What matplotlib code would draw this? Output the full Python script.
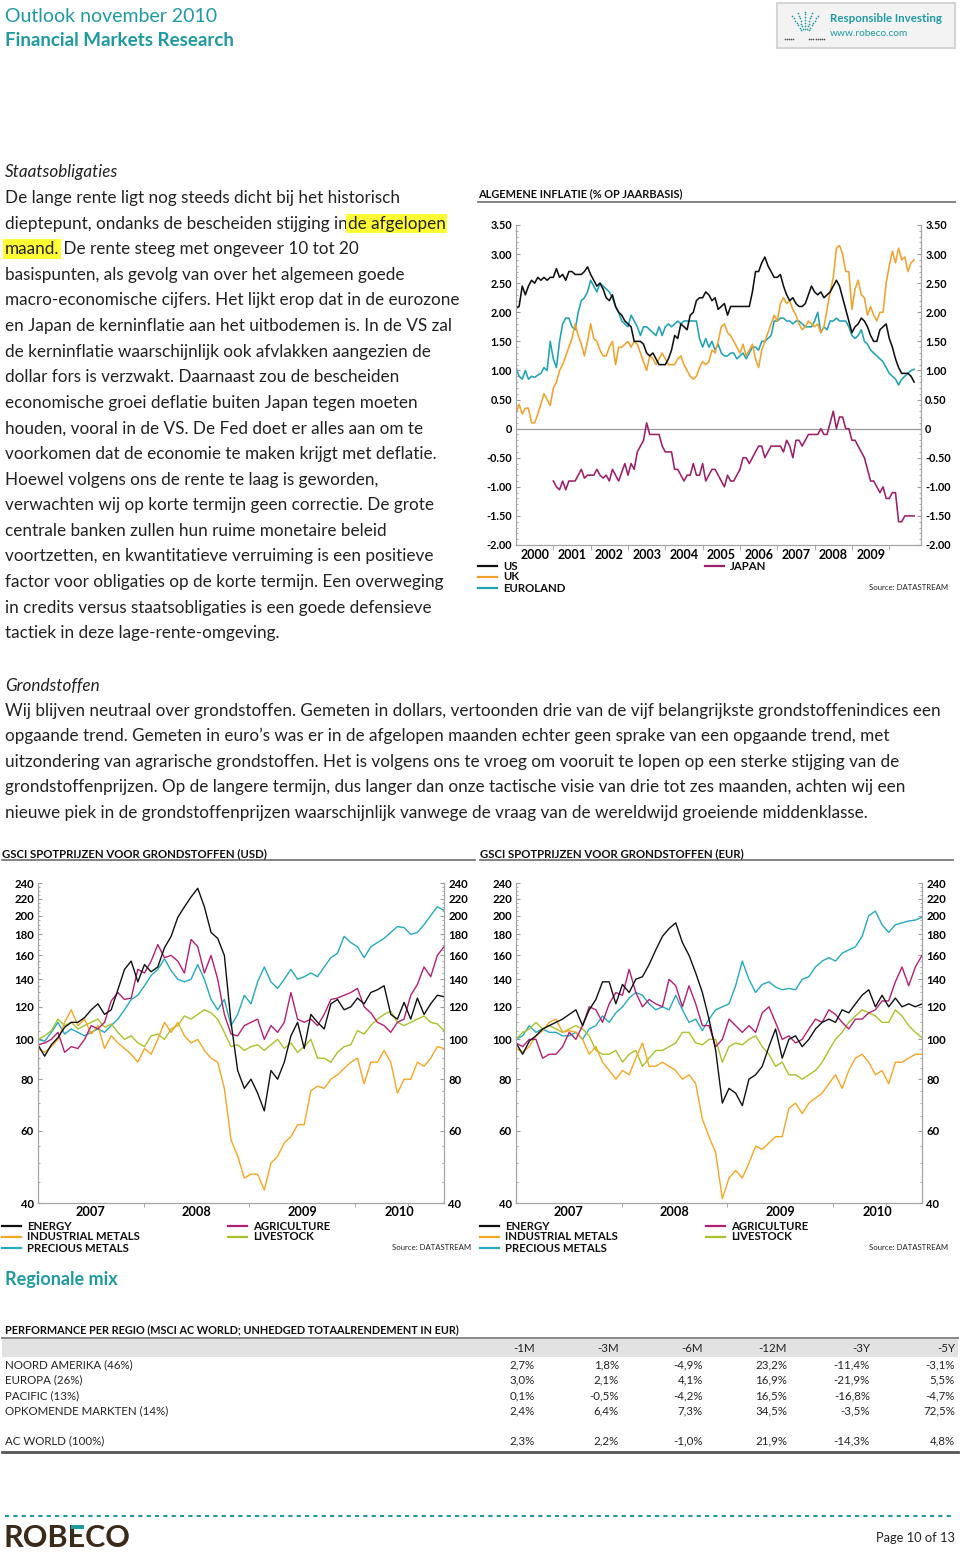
import numpy as np
import matplotlib
matplotlib.use("Agg")
import matplotlib.pyplot as plt
from matplotlib.lines import Line2D
from matplotlib.patches import Rectangle
from matplotlib.ticker import FixedLocator, NullFormatter

plt.rcParams['font.family'] = ['Lato', 'DejaVu Sans']

# ---------------- data ----------------
# inflation, monthly from Jan 2000 (Japan from Jan 2001)
infl_us = [2.07, 2.1, 2.45, 2.3, 2.45, 2.55, 2.5, 2.6, 2.55, 2.6, 2.55, 2.6,
           2.6, 2.75, 2.6, 2.65, 2.55, 2.7, 2.7, 2.65, 2.65, 2.65, 2.7, 2.78,
           2.65, 2.55, 2.45, 2.5, 2.4, 2.25, 2.2, 2.3, 2.1, 2.0, 1.95, 1.85,
           1.8, 1.75, 1.5, 1.5, 1.5, 1.45, 1.3, 1.25, 1.3, 1.2, 1.1, 1.1,
           1.1, 1.2, 1.35, 1.6, 1.55, 1.8, 1.75, 1.7, 1.95, 2.0, 2.2, 2.25,
           2.25, 2.35, 2.3, 2.2, 2.25, 2.05, 2.1, 2.15, 1.95, 2.1, 2.1, 2.1,
           2.1, 2.1, 2.1, 2.1, 2.35, 2.7, 2.7, 2.85, 2.95, 2.8, 2.7, 2.6,
           2.6, 2.65, 2.45, 2.3, 2.2, 2.25, 2.15, 2.1, 2.1, 2.15, 2.3, 2.45,
           2.35, 2.3, 2.35, 2.25, 2.3, 2.35, 2.45, 2.55, 2.45, 2.25, 2.05, 1.85,
           1.65, 1.75, 1.8, 1.9, 1.85, 1.75, 1.6, 1.5, 1.5, 1.7, 1.75, 1.8,
           1.55, 1.4, 1.2, 1.05, 0.95, 0.95, 0.95, 0.9, 0.8]
infl_uk = [0.25, 0.42, 0.25, 0.35, 0.35, 0.1, 0.1, 0.25, 0.42, 0.6, 0.5, 0.4,
           0.7, 0.8, 1.0, 1.1, 1.25, 1.4, 1.55, 1.8, 1.6, 1.45, 1.25, 1.5,
           1.8, 1.55, 1.5, 1.35, 1.25, 1.25, 1.4, 1.5, 1.1, 1.4, 1.4, 1.45,
           1.5, 1.4, 1.5, 1.45, 1.3, 1.15, 1.0, 1.25, 1.2, 1.1, 1.2, 1.3,
           1.2, 1.1, 1.1, 1.1, 1.2, 1.25, 1.1, 1.0, 0.9, 0.85, 0.9, 1.05,
           1.15, 1.1, 1.15, 1.35, 1.3, 1.5, 1.75, 1.8, 1.65, 1.6, 1.5, 1.4,
           1.3, 1.45, 1.25, 1.35, 1.45, 1.2, 1.05, 1.35, 1.5, 1.65, 1.8, 1.95,
           1.85, 2.15, 2.25, 2.15, 2.2, 2.05, 1.95, 1.8, 1.7, 1.75, 1.85, 1.8,
           1.75, 1.8, 1.65, 1.75, 2.05, 2.35, 2.6, 3.1, 3.15, 3.0, 2.7, 2.7,
           2.05, 2.4, 2.55, 2.3, 2.25, 1.95, 2.1, 1.95, 1.85, 2.0, 2.0, 2.5,
           2.8, 3.05, 2.85, 3.1, 2.9, 2.95, 2.7, 2.85, 2.9]
infl_euro = [1.05, 0.9, 0.85, 1.0, 0.85, 0.9, 0.88, 0.92, 0.95, 1.05, 1.0, 1.5,
             1.2, 1.05, 1.5, 1.8, 1.9, 1.9, 1.75, 1.7, 2.0, 2.2, 2.25, 2.35,
             2.55, 2.45, 2.35, 2.5, 2.45, 2.4, 2.35, 2.25, 2.1, 2.0, 1.85, 1.8,
             1.75, 1.95, 1.85, 1.75, 1.6, 1.75, 1.75, 1.7, 1.65, 1.6, 1.75, 1.6,
             1.75, 1.8, 1.75, 1.8, 1.85, 1.8, 1.85, 1.85, 1.85, 1.85, 1.85, 1.55,
             1.4, 1.55, 1.4, 1.5, 1.35, 1.45, 1.3, 1.25, 1.25, 1.3, 1.3, 1.2,
             1.25, 1.3, 1.2, 1.3, 1.4, 1.4, 1.35, 1.5, 1.5, 1.55, 1.6, 1.85,
             1.85, 1.9, 1.9, 1.85, 1.85, 1.8, 1.85, 1.85, 1.8, 1.75, 1.75, 1.75,
             1.85, 2.0, 1.65, 1.75, 1.7, 1.85, 1.85, 1.9, 1.85, 1.85, 1.85, 1.75,
             1.6, 1.55, 1.6, 1.7, 1.5, 1.45, 1.35, 1.3, 1.25, 1.2, 1.15, 1.05,
             0.95, 0.9, 0.85, 0.75, 0.85, 0.9, 0.95, 1.0, 1.02]
infl_japan = [-0.9, -1.0, -1.05, -0.9, -1.05, -0.9, -0.9, -0.9, -0.8, -0.7, -0.85, -0.8,
              -0.8, -0.8, -0.7, -0.8, -0.85, -0.8, -0.9, -0.7, -0.8, -0.9, -0.75, -0.6,
              -0.8, -0.6, -0.7, -0.4, -0.3, -0.2, 0.1, -0.1, -0.1, -0.1, -0.1, -0.3,
              -0.4, -0.4, -0.4, -0.7, -0.7, -0.8, -0.9, -0.8, -0.8, -0.6, -0.8, -0.8,
              -0.6, -0.9, -0.8, -0.7, -0.7, -0.8, -0.9, -1.0, -0.8, -0.9, -0.9, -0.8,
              -0.7, -0.5, -0.5, -0.6, -0.5, -0.4, -0.3, -0.3, -0.5, -0.4, -0.3, -0.3,
              -0.3, -0.3, -0.4, -0.2, -0.3, -0.5, -0.2, -0.2, -0.3, -0.2, -0.1, -0.1,
              -0.1, -0.1, 0.0, -0.1, -0.1, 0.1, 0.3, 0.0, 0.2, 0.2, 0.0, 0.0,
              -0.2, -0.2, -0.3, -0.4, -0.5, -0.7, -0.9, -0.9, -1.0, -1.1, -1.0, -1.2,
              -1.2, -1.1, -1.1, -1.6, -1.6, -1.5, -1.5, -1.5, -1.5]
infl_years = ['2000', '2001', '2002', '2003', '2004', '2005', '2006', '2007', '2008', '2009']

# GSCI spot indices (rebased = 100), Jan 2007 - Oct 2010
usd_energy = [97, 91, 97, 101, 107, 110, 110, 113, 118, 122,
              115, 118, 132, 148, 155, 138, 152, 146, 150, 167,
              178, 198, 210, 222, 233, 210, 182, 176, 160, 110,
              84, 76, 80, 74, 67, 84, 80, 88, 102, 110,
              95, 115, 110, 106, 122, 125, 118, 120, 126, 122,
              130, 132, 135, 115, 112, 123, 112, 126, 115, 122,
              128, 127]
usd_industrial = [95, 93, 96, 100, 110, 118, 108, 112, 103, 108,
                  95, 102, 98, 95, 92, 88, 95, 92, 100, 110,
                  104, 110, 102, 98, 100, 94, 90, 88, 76, 57,
                  52, 46, 47, 47, 43, 50, 52, 56, 58, 62,
                  62, 75, 77, 76, 80, 82, 85, 88, 90, 78,
                  88, 88, 94, 88, 74, 80, 80, 88, 86, 90,
                  96, 95]
usd_precious = [100, 99, 104, 110, 103, 106, 104, 102, 104, 106,
                104, 108, 112, 118, 125, 128, 135, 143, 148, 157,
                147, 140, 138, 140, 152, 140, 125, 118, 125, 108,
                115, 128, 122, 138, 150, 138, 133, 140, 148, 140,
                142, 145, 142, 150, 158, 162, 178, 172, 168, 158,
                168, 172, 176, 182, 188, 187, 180, 182, 190, 200,
                210, 206]
usd_agri = [97, 98, 100, 104, 93, 96, 95, 100, 108, 106,
            110, 124, 130, 125, 126, 148, 145, 155, 170, 158,
            160, 155, 145, 175, 168, 145, 160, 140, 115, 103,
            102, 108, 110, 112, 100, 108, 104, 110, 130, 112,
            110, 112, 108, 115, 125, 126, 128, 130, 133, 120,
            116, 110, 108, 104, 110, 112, 128, 136, 150, 142,
            160, 168]
usd_livestock = [100, 102, 105, 112, 108, 110, 106, 108, 110, 112,
                 107, 109, 104, 100, 102, 98, 96, 102, 103, 100,
                 106, 108, 114, 112, 115, 118, 116, 112, 104, 96,
                 97, 94, 96, 97, 94, 97, 100, 95, 98, 93,
                 96, 100, 90, 90, 88, 93, 96, 97, 105, 103,
                 108, 112, 115, 117, 110, 108, 110, 112, 114, 110,
                 109, 105]

eur_energy = [98, 92, 99, 102, 106, 108, 110, 112, 115, 118,
              108, 118, 125, 138, 138, 122, 136, 130, 140, 142,
              152, 165, 178, 186, 192, 172, 160, 145, 130, 112,
              94, 70, 76, 74, 69, 80, 82, 86, 96, 106,
              90, 100, 102, 96, 100, 106, 110, 112, 110, 118,
              116, 122, 128, 132, 120, 128, 120, 126, 120, 122,
              120, 122]
eur_industrial = [95, 93, 96, 102, 105, 110, 112, 104, 105, 104,
                  100, 92, 96, 88, 84, 80, 84, 82, 90, 98,
                  86, 86, 88, 86, 84, 80, 82, 78, 64, 58,
                  53, 41, 46, 48, 46, 50, 55, 54, 56, 58,
                  58, 68, 70, 66, 70, 72, 74, 78, 82, 76,
                  84, 90, 92, 88, 82, 84, 78, 88, 88, 90,
                  92, 92]
eur_precious = [100, 102, 108, 104, 106, 104, 104, 102, 102, 104,
                100, 106, 108, 114, 110, 116, 120, 126, 130, 128,
                122, 118, 120, 118, 128, 118, 110, 112, 105, 112,
                118, 120, 122, 135, 155, 140, 130, 136, 138, 134,
                132, 133, 132, 140, 142, 150, 155, 158, 155, 162,
                165, 168, 178, 200, 205, 190, 182, 190, 192, 194,
                195, 198]
eur_agri = [98, 96, 100, 100, 90, 92, 92, 96, 104, 100,
            108, 120, 118, 110, 122, 130, 128, 148, 130, 120,
            125, 122, 120, 140, 135, 120, 135, 122, 108, 108,
            96, 100, 112, 108, 104, 108, 104, 116, 120, 110,
            100, 102, 98, 100, 106, 112, 110, 118, 115, 110,
            106, 112, 112, 116, 118, 124, 124, 138, 150, 135,
            150, 160]
eur_livestock = [100, 104, 106, 110, 106, 108, 106, 104, 106, 108,
                 106, 102, 94, 92, 92, 94, 88, 92, 94, 86,
                 90, 94, 94, 96, 98, 104, 104, 98, 97, 100,
                 100, 88, 96, 98, 97, 100, 102, 96, 92, 86,
                 88, 82, 82, 80, 82, 84, 88, 94, 100, 104,
                 110, 114, 118, 116, 114, 110, 110, 118, 114, 108,
                 104, 101]
gsci_years = ['2007', '2008', '2009', '2010']
gsci_labels = ['ENERGY', 'INDUSTRIAL METALS', 'PRECIOUS METALS', 'AGRICULTURE', 'LIVESTOCK']

# regional performance table
table_cols = ['-1M', '-3M', '-6M', '-12M', '-3Y', '-5Y']
table_rows = ['NOORD AMERIKA (46%)', 'EUROPA (26%)', 'PACIFIC (13%)', 'OPKOMENDE MARKTEN (14%)']
table_vals = [['2,7%', '1,8%', '-4,9%', '23,2%', '-11,4%', '-3,1%'],
              ['3,0%', '2,1%', '4,1%', '16,9%', '-21,9%', '5,5%'],
              ['0,1%', '-0,5%', '-4,2%', '16,5%', '-16,8%', '-4,7%'],
              ['2,4%', '6,4%', '7,3%', '34,5%', '-3,5%', '72,5%']]
total_row = 'AC WORLD (100%)'
total_vals = ['2,3%', '2,2%', '-1,0%', '21,9%', '-14,3%', '4,8%']

# text
staats_lines = [
    "De lange rente ligt nog steeds dicht bij het historisch",
    None,
    None,
    "basispunten, als gevolg van over het algemeen goede",
    "macro-economische cijfers. Het lijkt erop dat in de eurozone",
    "en Japan de kerninflatie aan het uitbodemen is. In de VS zal",
    "de kerninflatie waarschijnlijk ook afvlakken aangezien de",
    "dollar fors is verzwakt. Daarnaast zou de bescheiden",
    "economische groei deflatie buiten Japan tegen moeten",
    "houden, vooral in de VS. De Fed doet er alles aan om te",
    "voorkomen dat de economie te maken krijgt met deflatie.",
    "Hoewel volgens ons de rente te laag is geworden,",
    "verwachten wij op korte termijn geen correctie. De grote",
    "centrale banken zullen hun ruime monetaire beleid",
    "voortzetten, en kwantitatieve verruiming is een positieve",
    "factor voor obligaties op de korte termijn. Een overweging",
    "in credits versus staatsobligaties is een goede defensieve",
    "tactiek in deze lage-rente-omgeving.",
]
grond_lines = [
    "Wij blijven neutraal over grondstoffen. Gemeten in dollars, vertoonden drie van de vijf belangrijkste grondstoffenindices een",
    "opgaande trend. Gemeten in euro\u2019s was er in de afgelopen maanden echter geen sprake van een opgaande trend, met",
    "uitzondering van agrarische grondstoffen. Het is volgens ons te vroeg om vooruit te lopen op een sterke stijging van de",
    "grondstoffenprijzen. Op de langere termijn, dus langer dan onze tactische visie van drie tot zes maanden, achten wij een",
    "nieuwe piek in de grondstoffenprijzen waarschijnlijk vanwege de vraag van de wereldwijd groeiende middenklasse.",
]

TEAL = '#1f9aa3'
C_US, C_UK, C_EURO, C_JP = '#111111', '#f0a22e', '#1fa3b5', '#9c1f6b'
C_EN, C_IND, C_PREC, C_AGRI, C_LIVE = '#111111', '#f5a623', '#25a9bd', '#b51f73', '#a9c22a'
TXT = '#222222'

# ---------------- page helpers (pixel coordinates, top-left origin) ----------------
W, H = 960, 1552
fig = plt.figure(figsize=(W / 100, H / 100), dpi=100)
fig.patch.set_facecolor('white')
renderer = fig.canvas.get_renderer()


def fx(x):
    return x / W


def fy(y):
    return 1 - y / H


def put(x, y, s, **kw):
    kw.setdefault('va', 'center')
    kw.setdefault('color', TXT)
    return fig.text(fx(x), fy(y), s, **kw)


def hline(x0, x1, y, **kw):
    fig.add_artist(Line2D([fx(x0), fx(x1)], [fy(y), fy(y)], **kw))


def box(x0, y0, x1, y1, **kw):
    fig.add_artist(Rectangle((fx(x0), fy(y1)), (x1 - x0) / W, (y1 - y0) / H,
                             transform=fig.transFigure, **kw))


def axes_px(left, top, right, bottom, **kw):
    return fig.add_axes([fx(left), fy(bottom), (right - left) / W, (bottom - top) / H], **kw)


def legend_item(x, y, color, label):
    hline(x, x + 19, y, color=color, lw=1.6)
    put(x + 25, y, label, fontsize=8.2, fontweight='bold', color='#111')


def style_axis(a):
    for s in ['left', 'right', 'bottom']:
        a.spines[s].set_color('#a5a5a5')
        a.spines[s].set_linewidth(0.9)
    a.spines['top'].set_visible(False)
    for lab in a.xaxis.get_ticklabels() + a.yaxis.get_ticklabels():
        lab.set_fontweight('bold')
    for tk in a.yaxis.get_major_ticks():
        tk.label2.set_fontweight('bold')


# fit body font size to the width of the widest paragraph line
probe = put(5, 711, grond_lines[0], fontsize=11)
body_fs = 11 * 932 / probe.get_window_extent(renderer).width
probe.remove()

# ---------------- header ----------------
put(5, 16, 'Outlook november 2010', fontsize=14, color=TEAL)
put(5, 40, 'Financial Markets Research', fontsize=13.5, color=TEAL, fontweight='bold')
box(777, 3, 955, 48, fc='#f3f3f3', ec='#d5d5d5', lw=1.5, zorder=0.5)
put(830, 18, 'Responsible Investing', fontsize=8.3, color=TEAL, fontweight='bold')
put(830, 33, 'www.robeco.com', fontsize=7.3, color=TEAL)
icon = axes_px(784, 10, 826, 42, zorder=3)
icon.set_axis_off()
for ang in [55, 72, 90, 108, 125]:
    r = np.arange(0.3, 1.0, 0.11)
    icon.scatter(0.5 + r * np.cos(np.radians(ang)) * 0.55, 0.18 + r * np.sin(np.radians(ang)) * 0.8,
                 s=1.5, color=TEAL, lw=0)
dots_x = np.r_[np.arange(0.02, 0.25, 0.05), np.arange(0.6, 0.98, 0.05)]
icon.scatter(dots_x, np.full(len(dots_x), 0.08), s=1.5, color='#555', lw=0)
icon.set_xlim(0, 1)
icon.set_ylim(0, 1)

# ---------------- Staatsobligaties text ----------------
put(5, 177, 'Staatsobligaties', fontsize=body_fs, style='italic', va='baseline')
for i, line in enumerate(staats_lines):
    yb = 203 + i * 25.6
    if i == 1:
        t = put(5, yb, 'dieptepunt, ondanks de bescheiden stijging in', fontsize=body_fs, va='baseline')
        xe = t.get_window_extent(renderer).x1
        put(xe, yb, 'de afgelopen', fontsize=body_fs, va='baseline',
            bbox=dict(fc='#ffff33', ec='none', pad=1.2))
    elif i == 2:
        t = put(5, yb, 'maand.', fontsize=body_fs, va='baseline',
                bbox=dict(fc='#ffff33', ec='none', pad=1.2))
        xe = t.get_window_extent(renderer).x1
        put(xe, yb, ' De rente steeg met ongeveer 10 tot 20', fontsize=body_fs, va='baseline')
    else:
        put(5, yb, line, fontsize=body_fs, va='baseline')

# ---------------- inflation chart ----------------
put(478, 194, 'ALGEMENE INFLATIE (% OP JAARBASIS)', fontsize=7.9, fontweight='bold', color='#111')
hline(478, 955, 202, color='#7a7a7a', lw=1.3)

ax = axes_px(516, 225, 921, 545)
ax.axhline(0, color='#9a9a9a', lw=0.9)
ax.plot(2000 + np.arange(len(infl_euro)) / 12, infl_euro, color=C_EURO, lw=1.15)
ax.plot(2000 + np.arange(len(infl_uk)) / 12, infl_uk, color=C_UK, lw=1.15)
ax.plot(2001 + np.arange(len(infl_japan)) / 12, infl_japan, color=C_JP, lw=1.15)
ax.plot(2000 + np.arange(len(infl_us)) / 12, infl_us, color=C_US, lw=1.15)
ax.set_xlim(2000, 2010.85)
ax.set_ylim(-2, 3.5)
yt = np.arange(-2, 3.51, 0.5)
ax.set_yticks(yt, ['0' if abs(v) < 1e-9 else f'{v:.2f}' for v in yt])
ax.yaxis.set_minor_locator(FixedLocator(np.arange(-2, 3.51, 0.1)))
ax.yaxis.set_minor_formatter(NullFormatter())
ax.tick_params(axis='y', which='both', direction='in', left=True, right=True,
               labelleft=True, labelright=True, color='#9a9a9a', labelsize=7.8, pad=3)
ax.tick_params(axis='y', which='major', length=3)
ax.tick_params(axis='y', which='minor', length=1.5)
ax.set_xticks(np.arange(2000.5, 2010, 1), infl_years)
ax.xaxis.set_minor_locator(FixedLocator(np.arange(2001, 2011, 1)))
ax.tick_params(axis='x', which='major', length=0, labelsize=9, pad=3)
ax.tick_params(axis='x', which='minor', length=3.5, direction='out', color='#9a9a9a')
style_axis(ax)

legend_item(478, 566, C_US, 'US')
legend_item(478, 577, C_UK, 'UK')
legend_item(478, 588, C_EURO, 'EUROLAND')
legend_item(705, 566, C_JP, 'JAPAN')
put(948, 588, 'Source: DATASTREAM', fontsize=5.6, ha='right', color='#222')

# ---------------- Grondstoffen text ----------------
put(5, 691, 'Grondstoffen', fontsize=body_fs, style='italic', va='baseline')
for i, line in enumerate(grond_lines):
    put(5, 716 + i * 25.5, line, fontsize=body_fs, va='baseline')


# ---------------- GSCI charts ----------------
def gsci_chart(left, title, energy, industrial, precious, agri, livestock, src_right):
    put(left - 36, 854, title, fontsize=8.2, fontweight='bold', color='#111')
    hline(left - 36, left + 437, 860, color='#7a7a7a', lw=1.3)
    a = axes_px(left, 883, left + 406, 1203)
    t = np.linspace(2007.0, 2010.84, len(energy))
    a.plot(t, precious, color=C_PREC, lw=1.0)
    a.plot(t, livestock, color=C_LIVE, lw=1.0)
    a.plot(t, industrial, color=C_IND, lw=1.0)
    a.plot(t, agri, color=C_AGRI, lw=1.0)
    a.plot(t, energy, color=C_EN, lw=1.0)
    a.set_yscale('log')
    a.set_ylim(40, 240)
    a.set_xlim(2007, 2010.84)
    yt = [40, 60, 80, 100, 120, 140, 160, 180, 200, 220, 240]
    a.yaxis.set_major_locator(FixedLocator(yt))
    a.set_yticklabels([str(v) for v in yt])
    a.yaxis.set_minor_locator(FixedLocator(np.arange(45, 240, 5)))
    a.yaxis.set_minor_formatter(NullFormatter())
    a.tick_params(axis='y', which='both', direction='in', left=True, right=True,
                  labelleft=True, labelright=True, color='#9a9a9a', labelsize=8.2, pad=3)
    a.tick_params(axis='y', which='major', length=3)
    a.tick_params(axis='y', which='minor', length=1.3)
    a.set_xticks([2007.5, 2008.5, 2009.5, 2010.42], gsci_years)
    a.xaxis.set_minor_locator(FixedLocator(np.arange(2007.5, 2010.9, 0.5)))
    a.xaxis.set_minor_formatter(NullFormatter())
    a.tick_params(axis='x', which='major', length=0, labelsize=9.2, pad=2.5)
    a.tick_params(axis='x', which='minor', length=3, direction='out', color='#9a9a9a')
    style_axis(a)
    lx = left - 36
    legend_item(lx, 1226, C_EN, gsci_labels[0])
    legend_item(lx, 1237, C_IND, gsci_labels[1])
    legend_item(lx, 1248, C_PREC, gsci_labels[2])
    legend_item(lx + 226, 1226, C_AGRI, gsci_labels[3])
    legend_item(lx + 226, 1237, C_LIVE, gsci_labels[4])
    put(src_right, 1248, 'Source: DATASTREAM', fontsize=5.6, ha='right', color='#222')


gsci_chart(38, 'GSCI SPOTPRIJZEN VOOR GRONDSTOFFEN (USD)', usd_energy, usd_industrial,
           usd_precious, usd_agri, usd_livestock, 471)
gsci_chart(516, 'GSCI SPOTPRIJZEN VOOR GRONDSTOFFEN (EUR)', eur_energy, eur_industrial,
           eur_precious, eur_agri, eur_livestock, 948)

# ---------------- Regionale mix table ----------------
put(5, 1279, 'Regionale mix', fontsize=13, color=TEAL, fontweight='bold')
put(5, 1330, 'PERFORMANCE PER REGIO (MSCI AC WORLD; UNHEDGED TOTAALRENDEMENT IN EUR)',
    fontsize=7.8, fontweight='bold', color='#111')
box(2, 1338, 958, 1357, fc='#e2e2e2', ec='none')
hline(2, 958, 1338, color='#8a8a8a', lw=1.4)
col_right = [535, 619, 703, 787, 870, 955]
for cx, c in zip(col_right, table_cols):
    put(cx, 1348, c, fontsize=8.3, ha='right')
row_y = [1365, 1380, 1396, 1411]
for ry, name, vals in zip(row_y, table_rows, table_vals):
    put(5, ry, name, fontsize=8.3)
    for cx, v in zip(col_right, vals):
        put(cx, ry, v, fontsize=8.3, ha='right')
put(5, 1441, total_row, fontsize=8.3)
for cx, v in zip(col_right, total_vals):
    put(cx, 1441, v, fontsize=8.3, ha='right')
hline(2, 958, 1452, color='#555555', lw=2)

# ---------------- footer ----------------
hline(5, 955, 1516, color=TEAL, lw=1.5, ls=(0, (2, 2)))
rob_fs = 22
rob_base = 1547
put(4, rob_base, 'ROBECO', fontsize=rob_fs, fontweight='bold', color='#3b2a1a', va='baseline')
p1 = put(4, rob_base, 'ROB', fontsize=rob_fs, fontweight='bold', va='baseline', alpha=0)
p2 = put(4, rob_base, 'ROBE', fontsize=rob_fs, fontweight='bold', va='baseline', alpha=0)
em = rob_fs * 100 / 72
e0 = p1.get_window_extent(renderer).x1 + 0.07 * em
e1 = p2.get_window_extent(renderer).x1 - 0.08 * em
cap_top = rob_base - 0.72 * em
box(e0, cap_top - 0.5, e1, cap_top + 0.14 * em, fc=TEAL, ec='none', zorder=5)
put(955, 1538, 'Page 10 of 13', fontsize=9.3, ha='right', color='#222')

fig.savefig('out.png', dpi=100, facecolor='white')
